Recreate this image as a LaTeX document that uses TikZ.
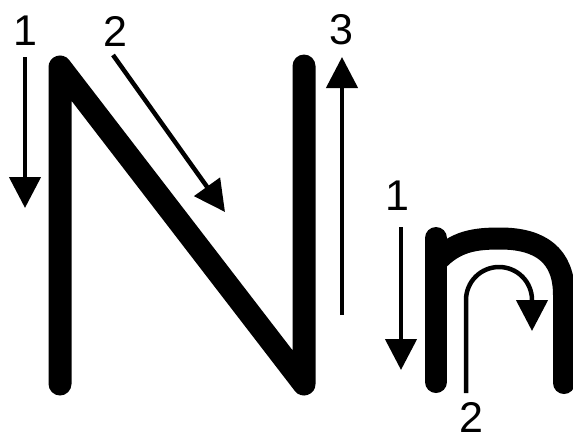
\documentclass[tikz,border=0pt]{standalone}
\usepackage{fontspec}
\setmainfont{Liberation Sans}
\usetikzlibrary{arrows.meta}
\tikzset{stroke/.style={line width=23pt,line cap=round,line join=round},
 guide/.style={line width=4.5pt,-{Triangle[width=31pt,length=31pt]}},
 every node/.style={font=\fontsize{43}{50}\selectfont,inner sep=0pt}}

\begin{document}
\begin{tikzpicture}[x=1pt,y=-1pt]
\useasboundingbox (0,0) rectangle (573,440);
\clip (0,0) rectangle (573,440);
% capital N
\draw[stroke] (60,384)--(60,67)--(304,384)--(304,66);
% small n
\draw[stroke,line width=22pt] (436,238)--(436,382);
\draw[stroke,line width=22pt] (436,262) .. controls (455,241) and (475,238.5) .. (500,238.5)
 .. controls (540,238.5) and (564,255) .. (564,295) -- (564,383);
% numbers
\foreach \name/\pos/\num in {bigone/{(25,31)}/1,bigtwo/{(115,31)}/2,bigthree/{(341,30)}/3,
 smallone/{(397,196)}/1,smalltwo/{(471,417)}/2}
 \node (\name) at \pos {\num};
% stroke order arrows
\coordinate (a1s) at (25,57);   \coordinate (a1e) at (25,208);
\coordinate (a2s) at (113,55);  \coordinate (a2e) at (225,212);
\coordinate (a3s) at (342,315); \coordinate (a3e) at (342,57);
\coordinate (b1s) at (401,227); \coordinate (b1e) at (401,370);
\coordinate (b2s) at (466,393); \coordinate (b2e) at (532,331);
\draw[guide] (a1s)--(a1e);
\draw[guide] (a2s)--(a2e);
\draw[guide] (a3s)--(a3e);
\draw[guide] (b1s)--(b1e);
\draw[guide] (b2s)--(466,300) arc (180:360:33)--(b2e);
\end{tikzpicture}
\end{document}
